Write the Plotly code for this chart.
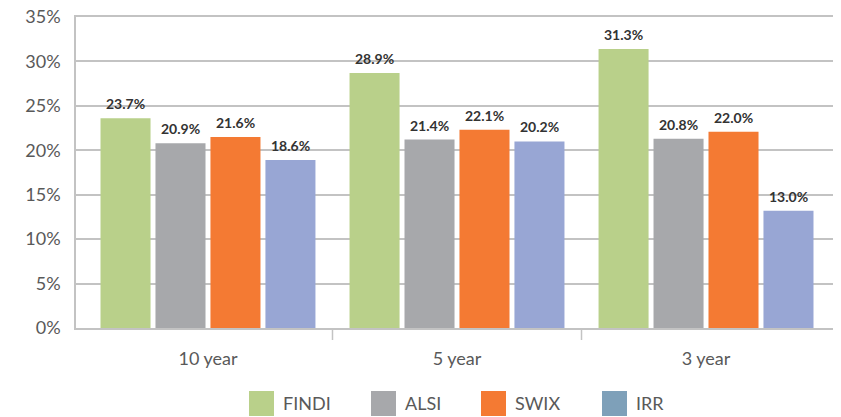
import plotly.graph_objects as go

# Data
CATEGORIES = ["10 year", "5 year", "3 year"]
SERIES = ["FINDI", "ALSI", "SWIX", "IRR"]
FINDI = [23.6, 28.7, 31.4]
ALSI = [20.8, 21.2, 21.3]
SWIX = [21.5, 22.3, 22.1]
IRR = [18.9, 21.0, 13.2]
FINDI_LABELS = ["23.7%", "28.9%", "31.3%"]
ALSI_LABELS = ["20.9%", "21.4%", "20.8%"]
SWIX_LABELS = ["21.6%", "22.1%", "22.0%"]
IRR_LABELS = ["18.6%", "20.2%", "13.0%"]
Y_TICKS = [0, 5, 10, 15, 20, 25, 30, 35]
Y_TICK_LABELS = ["0%", "5%", "10%", "15%", "20%", "25%", "30%", "35%"]

# Styling
BAR_COLORS = ["#b9d08a", "#a7a8ab", "#f47a33", "#98a6d4"]
LEGEND_COLORS = ["#b9d08a", "#a7a8ab", "#f47a33", "#7ea0b9"]
GRID = "#c3c3c3"
TEXT = "#595959"
FONT = "Lato, 'Open Sans', sans-serif"
BARGAP = 0.117
BARGROUPGAP = 0.09
X_PAD = 0.03  # extra room at both ends of the category axis

# page body has an 8px margin, so everything is laid out 8px up/left
OFF = 8
W, H = 841, 417
M_L, M_R, M_T, M_B = 76 - OFF, 3 + OFF, 17 - OFF, 89 + OFF
PLOT_W = W - M_L - M_R
PLOT_H = H - M_T - M_B

values = [FINDI, ALSI, SWIX, IRR]
labels = [FINDI_LABELS, ALSI_LABELS, SWIX_LABELS, IRR_LABELS]
xpos = list(range(len(CATEGORIES)))

fig = go.Figure()
for name, vals, color in zip(SERIES, values, BAR_COLORS):
    fig.add_trace(
        go.Bar(
            x=xpos,
            y=vals,
            name=name,
            marker=dict(color=color, line_width=0),
            showlegend=False,
        )
    )

# Data labels above each bar
slot = (1 - BARGAP) / len(SERIES)
annotations = []
for i, (vals, labs) in enumerate(zip(values, labels)):
    for j, (v, lab) in enumerate(zip(vals, labs)):
        annotations.append(
            dict(
                x=j + (i - (len(SERIES) - 1) / 2) * slot,
                y=v,
                xref="x",
                yref="y",
                text=lab,
                showarrow=False,
                yanchor="bottom",
                yshift=4,
                font=dict(family=FONT, size=14, color="#333333", weight="bold"),
            )
        )

shapes = []
# divider ticks between categories
for b in xpos[:-1]:
    shapes.append(
        dict(type="line", xref="x", yref="paper", x0=b + 0.5, x1=b + 0.5,
             y0=0, y1=-12 / PLOT_H, line=dict(color=GRID, width=1.5))
    )

# Custom legend (large square swatches)
LEGEND_X = [249, 371, 481, 602]
SWATCH = 25
LEGEND_Y = 391
for name, color, lx in zip(SERIES, LEGEND_COLORS, LEGEND_X):
    px = lx - OFF
    py = LEGEND_Y - OFF
    x0 = (px - M_L) / PLOT_W
    x1 = (px + SWATCH - M_L) / PLOT_W
    y_top = (M_T + PLOT_H - py) / PLOT_H
    y_bot = (M_T + PLOT_H - py - SWATCH) / PLOT_H
    shapes.append(
        dict(type="rect", xref="paper", yref="paper", x0=x0, x1=x1, y0=y_bot, y1=y_top,
             fillcolor=color, line_width=0)
    )
    annotations.append(
        dict(
            x=(px + SWATCH + 7 - M_L) / PLOT_W,
            y=(M_T + PLOT_H - py - SWATCH / 2) / PLOT_H,
            xref="paper",
            yref="paper",
            text=name,
            showarrow=False,
            xanchor="left",
            yanchor="middle",
            font=dict(family=FONT, size=18, color=TEXT),
        )
    )

fig.update_layout(
    width=W,
    height=H,
    margin=dict(l=M_L, r=M_R, t=M_T, b=M_B),
    paper_bgcolor="white",
    plot_bgcolor="white",
    barmode="group",
    bargap=BARGAP,
    bargroupgap=BARGROUPGAP,
    font=dict(family=FONT, size=18, color=TEXT),
    annotations=annotations,
    shapes=shapes,
    showlegend=False,
)
fig.update_xaxes(
    tickmode="array",
    tickvals=xpos,
    ticktext=CATEGORIES,
    range=[-0.5 - X_PAD, len(CATEGORIES) - 0.5 + X_PAD],
    ticks="",
    showline=True,
    linecolor=GRID,
    linewidth=1.5,
    mirror=True,
    showgrid=False,
    zeroline=False,
    automargin=False,
    ticklabelstandoff=14,
    tickfont=dict(size=18, color=TEXT),
)
fig.update_yaxes(
    range=[0, 35],
    tickmode="array",
    tickvals=Y_TICKS,
    ticktext=Y_TICK_LABELS,
    showgrid=True,
    gridcolor=GRID,
    gridwidth=1.5,
    showline=True,
    linecolor=GRID,
    linewidth=1.5,
    mirror=True,
    zeroline=False,
    automargin=False,
    ticklabelstandoff=10,
    ticklabeloverflow="allow",
    tickfont=dict(size=18, color=TEXT),
)

fig.write_html("out.html")
